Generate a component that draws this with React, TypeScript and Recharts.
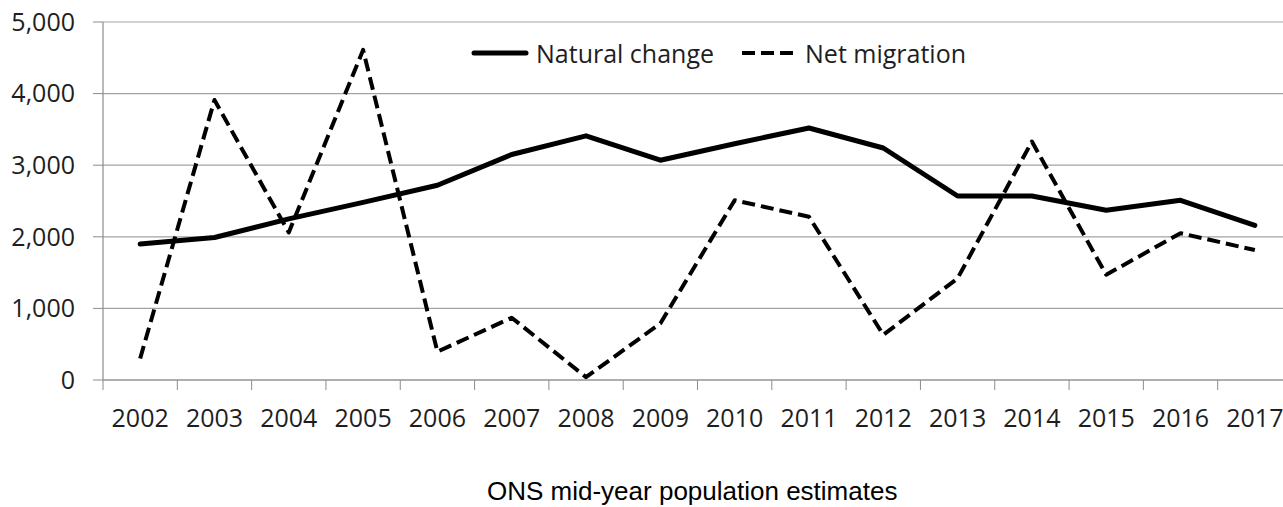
import { LineChart, Line, XAxis, YAxis, CartesianGrid, Legend } from 'recharts';

const years = ['2002', '2003', '2004', '2005', '2006', '2007', '2008', '2009', '2010', '2011', '2012', '2013', '2014', '2015', '2016', '2017'];
const naturalChange = [1900, 1990, 2250, 2480, 2720, 3150, 3410, 3070, 3300, 3520, 3240, 2570, 2570, 2370, 2510, 2160];
const netMigration = [300, 3910, 2060, 4610, 395, 870, 40, 790, 2510, 2280, 630, 1420, 3330, 1470, 2050, 1815];
const yTicks = [0, 1000, 2000, 3000, 4000, 5000];

const data = years.map((year, i) => ({ year, natural: naturalChange[i], net: netMigration[i] }));

const FONT = '"Open Sans", "Noto Sans", sans-serif';
const TEXT = '#1e1e1e';
const AXIS = '#8c8c8c';
const GRID = '#a3a3a3';

const CHART_W = 1292;
const CHART_H = 507;
const Y_AXIS_W = 103;
const HALF_BAND = (CHART_W - Y_AXIS_W) / years.length / 2;

function YearTick(props: any) {
  const { x, y, payload, index } = props;
  return (
    <g>
      <line x1={x - HALF_BAND} x2={x - HALF_BAND} y1={y - 10} y2={y} stroke={AXIS} />
      {index === years.length - 1 && (
        <line x1={x + HALF_BAND} x2={x + HALF_BAND} y1={y - 10} y2={y} stroke={AXIS} />
      )}
      <text x={x} y={y + 37} textAnchor="middle" fontFamily={FONT} fontSize={25} fill={TEXT}>
        {payload.value}
      </text>
    </g>
  );
}

function renderLegend(props: any) {
  const { payload = [] } = props;
  return (
    <div style={{ display: 'flex', alignItems: 'center', fontFamily: FONT, fontSize: 25, color: TEXT, whiteSpace: 'nowrap' }}>
      {payload.map((entry: any) => {
        const dashed = entry.dataKey === 'net';
        return (
          <div key={entry.value} style={{ display: 'flex', alignItems: 'center', marginRight: 28 }}>
            {dashed ? (
              <svg width={54} height={20}>
                <line x1={0} x2={52} y1={10} y2={10} stroke="#000" strokeWidth={4} strokeDasharray="13 6" />
              </svg>
            ) : (
              <svg width={58} height={20}>
                <line x1={3} x2={55} y1={10} y2={10} stroke="#000" strokeWidth={5} strokeLinecap="round" />
              </svg>
            )}
            <span style={{ marginLeft: dashed ? 9 : 7 }}>{entry.value}</span>
          </div>
        );
      })}
    </div>
  );
}

export default function App() {
  return (
    <div style={{ position: 'absolute', left: 0, top: 0, width: 1283, height: 507, overflow: 'hidden', background: '#fff' }}>
      <LineChart width={CHART_W} height={CHART_H} data={data} margin={{ top: 22, right: 0, bottom: 77, left: 0 }}>
        <CartesianGrid vertical={false} stroke={GRID} strokeWidth={1.2} />
        <XAxis
          dataKey="year"
          padding={{ left: HALF_BAND, right: HALF_BAND }}
          height={50}
          tickSize={10}
          tickMargin={0}
          tickLine={false}
          axisLine={{ stroke: AXIS, strokeWidth: 1.2 }}
          tick={<YearTick />}
          interval={0}
        />
        <YAxis
          width={Y_AXIS_W}
          domain={[0, 5000]}
          ticks={yTicks}
          interval={0}
          tickSize={10}
          tickMargin={18}
          tickFormatter={(v: number) => v.toLocaleString('en-GB')}
          tick={{ fontFamily: FONT, fontSize: 25, fill: TEXT }}
          tickLine={{ stroke: AXIS }}
          axisLine={{ stroke: AXIS, strokeWidth: 1.2 }}
        />
        <Legend
          layout="horizontal"
          verticalAlign="middle"
          align="center"
          content={renderLegend}
          wrapperStyle={{ top: 36, left: 471, width: 'auto' }}
        />
        <Line
          type="linear"
          dataKey="natural"
          name="Natural change"
          stroke="#000"
          strokeWidth={5}
          strokeLinejoin="round"
          strokeLinecap="round"
          dot={false}
          activeDot={false}
          isAnimationActive={false}
        />
        <Line
          type="linear"
          dataKey="net"
          name="Net migration"
          stroke="#000"
          strokeWidth={4}
          strokeDasharray="13 6"
          strokeLinejoin="round"
          dot={false}
          activeDot={false}
          isAnimationActive={false}
        />
      </LineChart>
      <div
        style={{
          position: 'absolute',
          left: 487,
          top: 476,
          lineHeight: '30px',
          fontFamily: '"Liberation Sans", Arial, sans-serif',
          fontSize: 26,
          color: '#000',
          whiteSpace: 'nowrap',
        }}
      >
        ONS mid-year population estimates
      </div>
    </div>
  );
}
